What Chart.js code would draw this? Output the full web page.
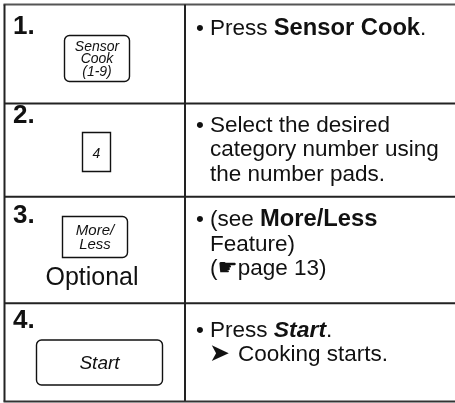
<!DOCTYPE html>
<html lang="en">

<head>
  <meta charset="UTF-8" />
  <title>Sensor Cook steps</title>
  <script src="https://cdn.jsdelivr.net/npm/chart.js"></script>
  <style>
    html, body {
      margin: 0;
      padding: 0;
      background: #fff;
    }

    .wrap {
      width: 455px;
      height: 403px;
    }
  </style>
</head>

<body>
  <div class="wrap"><canvas id="steps"></canvas></div>

  <script>
    // table content
    const steps = ['1.', '2.', '3.', '4.'];
    const buttonLabels = [['Sensor', 'Cook', '(1-9)'], ['4'], ['More/', 'Less'], ['Start']];
    const notes = ['', '', 'Optional', ''];
    // **bold**, ***bold italic***
    const instructions = [
      ['Press **Sensor Cook**.'],
      ['Select the desired', 'category number using', 'the number pads.'],
      ['(see **More/Less**', 'Feature)', '(\u261Bpage 13)'],
      ['Press ***Start***.', '\u27A4Cooking starts.']
    ];

    // layout in page pixels (used through the hidden linear scales)
    const FONT = '"Liberation Sans", Arial, Helvetica, "DejaVu Sans", sans-serif';
    const rowTops = [4.5, 103.5, 196.7, 303.3];
    const tableBottom = 401.5;
    const tableLeft = 4.5, colSplit = 185, tableRight = 460;
    const numX = 13, bulletX = 196, textX = 210;
    const numBase = [33.5, 122.5, 223, 328];
    const textBase = [35, 131.5, 226, 336.5];
    const lineGap = 24.5;
    const buttons = [
      { x: 64.5, y: 35.5, w: 65, h: 46, r: [5, 5, 5, 5], size: 14, base: 50.5, gap: 12.8 },
      { x: 82.5, y: 132.5, w: 28, h: 39, r: [0, 0, 0, 0], size: 14, base: 157.5, gap: 0 },
      { x: 62.5, y: 216.5, w: 65, h: 41, r: [0, 5, 5, 0], size: 15, base: 235, gap: 14 },
      { x: 36.5, y: 340, w: 126, h: 45, r: [5, 5, 5, 5], size: 19, base: 368.5, gap: 0 }
    ];
    const noteBase = 285, noteX = 92;

    function drawRich(ctx, x, y, text, size) {
      const parts = text.split(/(\*\*\*[^*]+\*\*\*|\*\*[^*]+\*\*)/).filter(p => p.length);
      parts.forEach(p => {
        let style = '';
        let t = p;
        let s = size;
        if (p.startsWith('***')) { style = 'italic bold '; t = p.slice(3, -3); s = size * 1.02; }
        else if (p.startsWith('**')) { style = 'bold '; t = p.slice(2, -2); s = size * 1.055; }
        ctx.font = style + s + 'px ' + FONT;
        ctx.fillText(t, x, y);
        x += ctx.measureText(t).width;
      });
    }

    const tablePlugin = {
      id: 'stepTable',
      afterDraw(chart) {
        const ctx = chart.ctx;
        const sx = chart.scales.x, sy = chart.scales.y;
        const px = v => sx.getPixelForValue(v);
        const py = v => sy.getPixelForValue(v);

        ctx.save();
        ctx.fillStyle = '#111';
        ctx.textBaseline = 'alphabetic';

        // grid lines
        ctx.lineWidth = 2;
        ctx.strokeStyle = '#555';
        ctx.beginPath();
        ctx.moveTo(px(tableLeft - 1), py(rowTops[0]));
        ctx.lineTo(px(tableRight), py(rowTops[0]));
        ctx.stroke();

        ctx.strokeStyle = '#222';
        ctx.beginPath();
        rowTops.slice(1).forEach(r => {
          ctx.moveTo(px(tableLeft), py(r));
          ctx.lineTo(px(tableRight), py(r));
        });
        ctx.moveTo(px(tableLeft), py(rowTops[0]));
        ctx.lineTo(px(tableLeft), py(tableBottom));
        ctx.moveTo(px(colSplit), py(rowTops[0]));
        ctx.lineTo(px(colSplit), py(tableBottom));
        ctx.stroke();

        ctx.strokeStyle = '#333';
        ctx.beginPath();
        ctx.moveTo(px(tableLeft - 1), py(tableBottom));
        ctx.lineTo(px(tableRight), py(tableBottom));
        ctx.stroke();

        steps.forEach((s, i) => {
          // step number
          ctx.textAlign = 'left';
          ctx.font = 'bold 26px ' + FONT;
          ctx.fillText(s, px(numX), py(numBase[i]));

          // key drawing
          const b = buttons[i];
          ctx.lineWidth = 1.4;
          ctx.strokeStyle = '#111';
          ctx.beginPath();
          ctx.roundRect(px(b.x), py(b.y), b.w, b.h, b.r);
          ctx.stroke();
          ctx.textAlign = 'center';
          ctx.font = 'italic ' + b.size + 'px ' + FONT;
          buttonLabels[i].forEach((t, k) => {
            ctx.fillText(t, px(b.x + b.w / 2), py(b.base + k * b.gap));
          });

          if (notes[i]) {
            ctx.font = '25px ' + FONT;
            ctx.fillText(notes[i], px(noteX), py(noteBase));
          }

          // instruction text
          ctx.textAlign = 'left';
          ctx.font = '22.5px ' + FONT;
          ctx.fillText('\u2022', px(bulletX), py(textBase[i]));
          instructions[i].forEach((line, k) => {
            const y = py(textBase[i] + k * lineGap);
            if (line.startsWith('\u27A4')) {
              ctx.font = '25px ' + FONT;
              ctx.fillText('\u27A4', px(textX - 1), y);
              drawRich(ctx, px(textX + 28), y, line.slice(1), 22.5);
            } else {
              drawRich(ctx, px(textX), y, line, 22.5);
            }
          });
        });
        ctx.restore();
      }
    };

    new Chart(document.getElementById('steps'), {
      type: 'scatter',
      data: { datasets: [] },
      options: {
        responsive: true,
        maintainAspectRatio: false,
        animation: false,
        layout: { padding: 0 },
        plugins: { legend: { display: false }, tooltip: { enabled: false } },
        scales: {
          x: { type: 'linear', min: 0, max: 455, display: false },
          y: { type: 'linear', min: 0, max: 403, reverse: true, display: false }
        }
      },
      plugins: [tablePlugin]
    });
  </script>
</body>

</html>
